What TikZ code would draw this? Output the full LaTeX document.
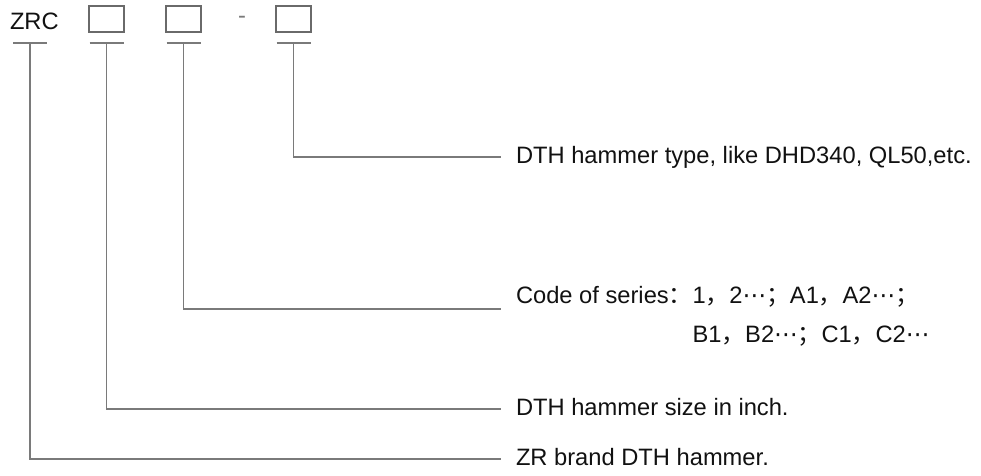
\documentclass[tikz,border=0pt]{standalone}
\usepackage{fontspec}
\setmainfont{Liberation Sans}
\newfontfamily\cjk{Noto Sans CJK SC}
\newfontfamily\dvs{DejaVu Sans}
\newcommand{\mdots}{{\dvs ⋯}}
\definecolor{linegray}{HTML}{7A7A7A}
\definecolor{boxgray}{HTML}{6A6A6A}
\definecolor{txt}{HTML}{111111}
\begin{document}
\begin{tikzpicture}[x=1pt,y=-1pt,
  every node/.style={font=\fontsize{23.7}{28}\selectfont, inner sep=0pt, outer sep=0pt, text=txt},
  conn/.style={draw=linegray, line width=1.2pt},
  tee/.style={draw=linegray, line width=1.2pt},
  box/.style={draw=boxgray, line width=1.2pt, minimum width=35pt, minimum height=26pt},
  lbl/.style={anchor=base west}
]
\useasboundingbox (0,0) rectangle (981,475);
% code line
\node[anchor=base west] (zrc) at (10,29) {ZRC};
\node[box] (b1) at (106.5,19) {};
\node[box] (b2) at (183.5,19) {};
\node[text=linegray] (dash) at (242,20) {-};
\node[box] (b3) at (293.5,19) {};
% tee points
\coordinate (t1) at (30,43);
\coordinate (t2) at (106.5,43);
\coordinate (t3) at (183.5,43);
\coordinate (t4) at (293.5,43);
\foreach \t in {t1,t2,t3,t4}
  \draw[tee] ([xshift=-17pt]\t) -- ([xshift=17pt]\t);
% labels
\node[lbl] (l4) at (516,163) {DTH hammer type, like DHD340, QL50,etc.};
\node[lbl] (l3) at (516,303) {Code of series{\cjk ：}};
\node[anchor=base west] (l3a) at (l3.base east) {1{\cjk ，}2\mdots{\cjk ；}A1{\cjk ，}A2\mdots{\cjk ；}};
\node[anchor=base west] (l3b) at ([yshift=-39pt]l3a.base west) {B1{\cjk ，}B2\mdots{\cjk ；}C1{\cjk ，}C2\mdots};
\node[lbl] (l2) at (516,415) {DTH hammer size in inch.};
\node[lbl] (l1) at (516,465) {ZR brand DTH hammer.};
% connectors
\draw[conn] (t4) |- ([xshift=-15pt,yshift=6pt]l4.base west);
\draw[conn] (t3) |- ([xshift=-15pt,yshift=-6pt]l3.base west);
\draw[conn] (t2) |- ([xshift=-15pt,yshift=6pt]l2.base west);
\draw[conn] (t1) |- ([xshift=-15pt,yshift=6pt]l1.base west);
\end{tikzpicture}
\end{document}
